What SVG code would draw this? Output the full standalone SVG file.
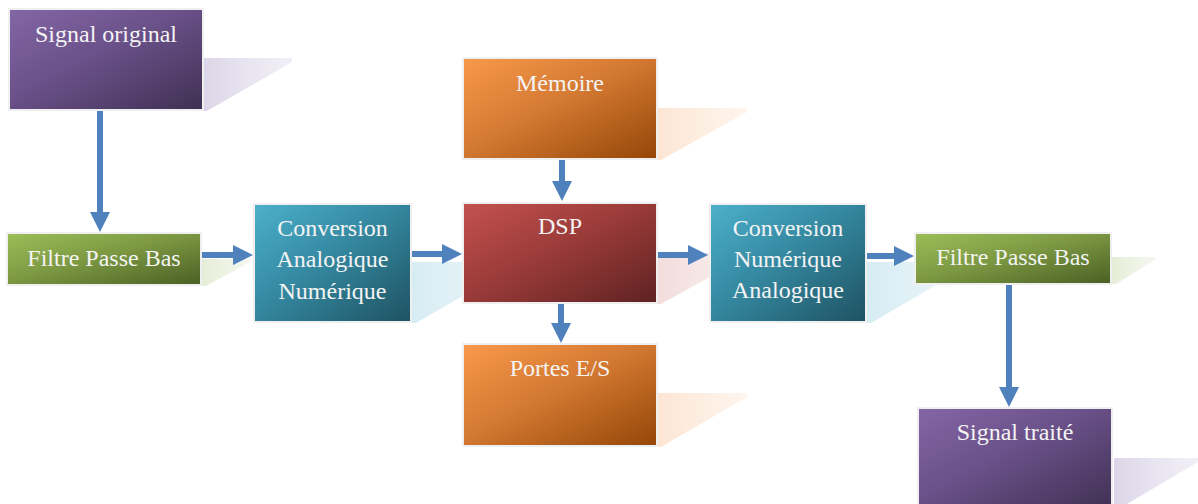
<svg xmlns="http://www.w3.org/2000/svg" width="1198" height="504" viewBox="0 0 1198 504">
  <defs>
    <linearGradient id="gPurple" x1="0" y1="0" x2="1" y2="1">
      <stop offset="0" stop-color="#8466a6"/>
      <stop offset="0.45" stop-color="#6a5189"/>
      <stop offset="1" stop-color="#3f3053"/>
    </linearGradient>
    <linearGradient id="gGreen" x1="0" y1="0" x2="1" y2="1">
      <stop offset="0" stop-color="#9dbe58"/>
      <stop offset="0.45" stop-color="#7d9a43"/>
      <stop offset="1" stop-color="#4a5f24"/>
    </linearGradient>
    <linearGradient id="gTeal" x1="0" y1="0" x2="1" y2="1">
      <stop offset="0" stop-color="#4db0cb"/>
      <stop offset="0.45" stop-color="#3589a1"/>
      <stop offset="1" stop-color="#1e5262"/>
    </linearGradient>
    <linearGradient id="gRed" x1="0" y1="0" x2="1" y2="1">
      <stop offset="0" stop-color="#c4524f"/>
      <stop offset="0.45" stop-color="#9c3c3a"/>
      <stop offset="1" stop-color="#5f2222"/>
    </linearGradient>
    <linearGradient id="gOrange" x1="0" y1="0" x2="1" y2="1">
      <stop offset="0" stop-color="#f89a4c"/>
      <stop offset="0.45" stop-color="#d57a33"/>
      <stop offset="1" stop-color="#944607"/>
    </linearGradient>
    <linearGradient id="sPurple" x1="0" y1="0" x2="1" y2="0">
      <stop offset="0" stop-color="#dcd6e8"/>
      <stop offset="1" stop-color="#e9e5f1" stop-opacity="0.6"/>
    </linearGradient>
    <linearGradient id="sGreen" x1="0" y1="0" x2="1" y2="0">
      <stop offset="0" stop-color="#e6edd6"/>
      <stop offset="1" stop-color="#eef2e4" stop-opacity="0.6"/>
    </linearGradient>
    <linearGradient id="sTeal" x1="0" y1="0" x2="1" y2="0">
      <stop offset="0" stop-color="#d6ecf3"/>
      <stop offset="1" stop-color="#e2f1f6" stop-opacity="0.6"/>
    </linearGradient>
    <linearGradient id="sRed" x1="0" y1="0" x2="1" y2="0">
      <stop offset="0" stop-color="#f3dcdc"/>
      <stop offset="1" stop-color="#f6e6e6" stop-opacity="0.6"/>
    </linearGradient>
    <linearGradient id="sOrange" x1="0" y1="0" x2="1" y2="0">
      <stop offset="0" stop-color="#fde5d3"/>
      <stop offset="1" stop-color="#fdeee2" stop-opacity="0.6"/>
    </linearGradient>
    <style>
      .box { stroke: #efefef; stroke-width: 2; }
      .lbl { font-family: "Liberation Serif", "Times New Roman", serif; font-size: 24px; fill: #f4f4f4; text-anchor: middle; }
      .arrow { fill: #4f81bd; }
    </style>
  </defs>

  <!-- source signal -->
  <g id="signal-original">
    <polygon points="204,58 292,58 292,62 207,111 204,111" fill="url(#sPurple)"/>
    <rect class="box" x="9" y="9" width="194" height="101" fill="url(#gPurple)"/>
    <text class="lbl" x="106" y="42">Signal original</text>
  </g>

  <!-- anti-aliasing low-pass filter -->
  <g id="filtre-entree">
    <polygon points="202,259 250,259 250,262 206,286 202,286" fill="url(#sGreen)"/>
    <rect class="box" x="7" y="233" width="194" height="52" fill="url(#gGreen)"/>
    <text class="lbl" x="104" y="266">Filtre Passe Bas</text>
  </g>

  <!-- ADC -->
  <g id="can">
    <polygon points="412,262 515,262 515,266 416,323 412,323" fill="url(#sTeal)"/>
    <rect class="box" x="254" y="204" width="157" height="118" fill="url(#gTeal)"/>
    <text class="lbl" x="332.5" y="236">Conversion</text>
    <text class="lbl" x="332.5" y="267">Analogique</text>
    <text class="lbl" x="332.5" y="299">Numérique</text>
  </g>

  <!-- memory -->
  <g id="memoire">
    <polygon points="658,108 747,108 747,112 661,160 658,160" fill="url(#sOrange)"/>
    <rect class="box" x="463" y="58" width="194" height="101" fill="url(#gOrange)"/>
    <text class="lbl" x="560" y="91">Mémoire</text>
  </g>

  <!-- processor -->
  <g id="dsp">
    <polygon points="658,253 746,253 746,257 661,304 658,304" fill="url(#sRed)"/>
    <rect class="box" x="463" y="203" width="194" height="100" fill="url(#gRed)"/>
    <text class="lbl" x="560" y="234">DSP</text>
  </g>

  <!-- I/O ports -->
  <g id="portes-es">
    <polygon points="658,393 747,393 747,397 661,447 658,447" fill="url(#sOrange)"/>
    <rect class="box" x="463" y="344" width="194" height="102" fill="url(#gOrange)"/>
    <text class="lbl" x="560" y="376">Portes E/S</text>
  </g>

  <!-- DAC -->
  <g id="cna">
    <polygon points="867,262 969,262 969,266 871,323 867,323" fill="url(#sTeal)"/>
    <rect class="box" x="710" y="204" width="156" height="118" fill="url(#gTeal)"/>
    <text class="lbl" x="788" y="236">Conversion</text>
    <text class="lbl" x="788" y="267">Numérique</text>
    <text class="lbl" x="788" y="298">Analogique</text>
  </g>

  <!-- reconstruction low-pass filter -->
  <g id="filtre-sortie">
    <polygon points="1112,257 1155,257 1155,260 1116,284 1112,284" fill="url(#sGreen)"/>
    <rect class="box" x="915" y="233" width="196" height="51" fill="url(#gGreen)"/>
    <text class="lbl" x="1013" y="265">Filtre Passe Bas</text>
  </g>

  <!-- output signal -->
  <g id="signal-traite">
    <polygon points="1114,458 1198,458 1198,462 1117,510 1114,510" fill="url(#sPurple)"/>
    <rect class="box" x="918" y="408" width="194" height="101" fill="url(#gPurple)"/>
    <text class="lbl" x="1015" y="440">Signal traité</text>
  </g>

  <!-- connectors: block arrows -->
  <g id="connectors">
    <!-- signal original -> filtre -->
    <polygon class="arrow" points="97,111 103,111 103,212 110,212 100,232 90,212 97,212"/>
    <!-- filtre -> CAN -->
    <polygon class="arrow" points="202,252 233,252 233,245 253,255 233,265 233,258 202,258"/>
    <!-- CAN -> DSP -->
    <polygon class="arrow" points="412,251 442,251 442,244 462,254 442,264 442,257 412,257"/>
    <!-- mémoire -> DSP -->
    <polygon class="arrow" points="559,160 565,160 565,181 572,181 562,201 552,181 559,181"/>
    <!-- DSP -> portes -->
    <polygon class="arrow" points="558,304 564,304 564,323 571,323 561,343 551,323 558,323"/>
    <!-- DSP -> CNA -->
    <polygon class="arrow" points="658,252 688,252 688,245 708,255 688,265 688,258 658,258"/>
    <!-- CNA -> filtre -->
    <polygon class="arrow" points="867,253 894,253 894,246 914,256 894,266 894,259 867,259"/>
    <!-- filtre -> signal traité -->
    <polygon class="arrow" points="1006,285 1012,285 1012,387 1019,387 1009,407 999,387 1006,387"/>
  </g>
</svg>
